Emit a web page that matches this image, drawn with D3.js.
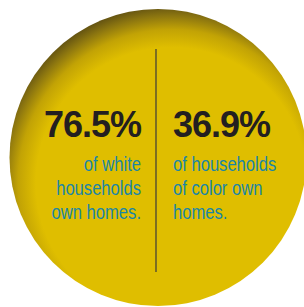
<!DOCTYPE html>
<html><head><meta charset="utf-8">
<script src="https://cdn.jsdelivr.net/npm/d3@7"></script>
<style>html,body{margin:0;padding:0;background:#fff;}svg{display:block;}</style>
</head><body>
<script>
const groups = ["white", "color"];
const values = [76.5, 36.9];
const captions = [
  ["of white", "households", "own homes."],
  ["of households", "of color own", "homes."]
];

const W = 304, H = 307;
const svg = d3.select("body").append("svg").attr("width", W).attr("height", H);

const defs = svg.append("defs");
const grad = defs.append("radialGradient").attr("id", "g")
  .attr("cx", 0.545).attr("cy", 0.585).attr("r", 0.60);
grad.append("stop").attr("offset", "0.76").attr("stop-color", "#dfbe00");
grad.append("stop").attr("offset", "0.86").attr("stop-color", "#c2a305");
grad.append("stop").attr("offset", "0.94").attr("stop-color", "#8a7410");
grad.append("stop").attr("offset", "1").attr("stop-color", "#5f4f12");

const cx = 158, cy = 157.5, r = 148.5;
svg.append("circle").attr("cx", cx).attr("cy", cy).attr("r", r).attr("fill", "url(#g)");

const divX = 156;
svg.append("line").attr("x1", divX).attr("x2", divX).attr("y1", 49).attr("y2", 272)
  .attr("stroke", "#3a3a3a").attr("stroke-width", 1.2);

const fmt = d3.format(".1f");
const anchorX = {white: 141, color: 173};
const anchor = {white: "end", color: "start"};

groups.forEach((gname, i) => {
  const g = svg.append("g");
  g.append("text").attr("x", anchorX[gname]).attr("y", 137)
    .attr("text-anchor", anchor[gname])
    .attr("font-family", "'Liberation Sans', Arial, sans-serif")
    .attr("font-weight", "bold").attr("font-size", 36).attr("letter-spacing", -1)
    .attr("fill", "#231f20")
    .text(fmt(values[i]) + "%");
  const t = g.append("text").attr("text-anchor", anchor[gname])
    .attr("transform", `translate(${anchorX[gname]},0) scale(0.83,1)`)
    .attr("font-family", "'Liberation Sans', Arial, sans-serif")
    .attr("font-size", 20).attr("fill", "#1a86a6");
  captions[i].forEach((line, j) => {
    t.append("tspan").attr("x", 0).attr("y", 171 + j * 24).text(line);
  });
});
</script>
</body></html>
